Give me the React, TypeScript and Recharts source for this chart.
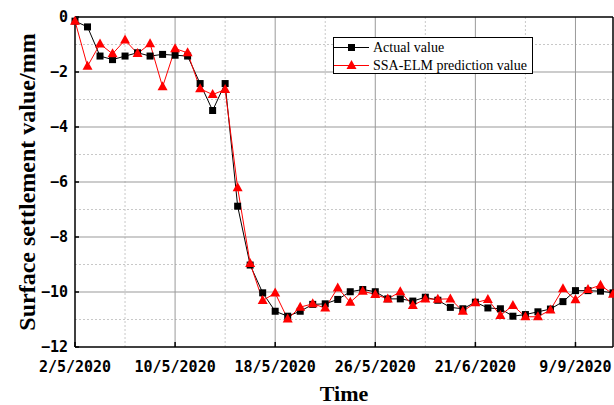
import { LineChart, Line, XAxis, YAxis, ReferenceLine, Legend, Label } from 'recharts';

const actual = [
  -0.15, -0.36, -1.42, -1.55, -1.42, -1.3, -1.42, -1.36, -1.39, -1.42,
  -2.42, -3.4, -2.42, -6.88, -9.02, -10.03, -10.7, -10.88, -10.7, -10.45,
  -10.43, -10.27, -9.99, -9.91, -9.99, -10.25, -10.25, -10.33, -10.19, -10.3,
  -10.56, -10.61, -10.37, -10.58, -10.61, -10.88, -10.82, -10.72, -10.62, -10.35,
  -9.95, -9.95, -9.97, -10.03,
];

const predicted = [
  -0.15, -1.79, -0.98, -1.34, -0.84, -1.33, -0.97, -2.54, -1.15, -1.3,
  -2.61, -2.82, -2.64, -6.21, -8.96, -10.31, -10.04, -10.98, -10.55, -10.43,
  -10.58, -9.85, -10.37, -9.97, -10.09, -10.25, -9.99, -10.49, -10.25, -10.26,
  -10.25, -10.7, -10.39, -10.27, -10.85, -10.49, -10.9, -10.9, -10.65, -9.88,
  -10.28, -9.91, -9.75, -10.08,
];

const dateTicks = [0, 8, 16, 24, 32, 40];
const dateLabels = ['2/5/2020', '10/5/2020', '18/5/2020', '26/5/2020', '21/6/2020', '9/9/2020'];
const minorX = [4, 12, 20, 28, 36];
const yTicks = [-12, -10, -8, -6, -4, -2, 0];
const majorY = [-10, -8, -6, -4, -2];
const minorY = [-11, -9, -7, -5, -3, -1];

const data = actual.map((a, i) => ({ idx: i, actual: a, predicted: predicted[i] }));

const tickFont = { fontFamily: '"DejaVu Sans Mono", monospace', fontWeight: 'bold', fontSize: 15, fill: '#000' };
const titleFont = { fontFamily: '"Liberation Serif", serif', fontWeight: 'bold', fontSize: 22, fill: '#000' };

const Square = (props: any) => {
  const { cx, cy, index } = props;
  return <rect key={`s${index}`} x={cx - 3.5} y={cy - 3.5} width={7} height={7} fill="#000" />;
};

const Triangle = (props: any) => {
  const { cx, cy, index } = props;
  return (
    <polygon key={`t${index}`} points={`${cx},${cy - 5.5} ${cx - 5},${cy + 3.5} ${cx + 5},${cy + 3.5}`} fill="#ff0000" />
  );
};

const LegendBox = () => (
  <svg width={200} height={37} style={{ display: 'block' }}>
    <rect x={0.5} y={0.5} width={199} height={36} fill="#fff" stroke="#000" />
    <line x1={1} x2={36} y1={10.5} y2={10.5} stroke="#000" />
    <rect x={15} y={7} width={7} height={7} fill="#000" />
    <text x={40} y={15} fontFamily='"Liberation Serif", serif' fontSize={14}>Actual value</text>
    <line x1={1} x2={36} y1={28.5} y2={28.5} stroke="#ff0000" />
    <polygon points="18.5,23 13.5,32 23.5,32" fill="#ff0000" />
    <text x={40} y={33} fontFamily='"Liberation Serif", serif' fontSize={14}>SSA-ELM prediction value</text>
  </svg>
);

export default function App() {
  return (
    <div style={{ position: 'absolute', left: 0, top: 0 }}>
      <LineChart width={614} height={405} data={data} margin={{ top: 17, right: 1, left: 0, bottom: 0 }}>
        {minorX.map((x) => (
          <ReferenceLine key={`mx${x}`} x={x} stroke="#c8c8c8" strokeDasharray="2 2" />
        ))}
        {minorY.map((y) => (
          <ReferenceLine key={`my${y}`} y={y} stroke="#c8c8c8" strokeDasharray="2 2" />
        ))}
        {dateTicks.slice(1).map((x) => (
          <ReferenceLine key={`Mx${x}`} x={x} stroke="#999" />
        ))}
        {majorY.map((y) => (
          <ReferenceLine key={`My${y}`} y={y} stroke="#999" />
        ))}
        <ReferenceLine y={0} stroke="#000" strokeWidth={1.5} />
        <ReferenceLine x={43} stroke="#000" strokeWidth={1.5} />
        <XAxis
          dataKey="idx"
          type="number"
          domain={[0, 43]}
          ticks={dateTicks}
          interval={0}
          height={58}
          tickSize={-5}
          tickMargin={19}
          axisLine={{ stroke: '#000', strokeWidth: 1.5 }}
          tickLine={{ stroke: '#000', strokeWidth: 1.5 }}
          tick={tickFont}
          tickFormatter={(v: number) => dateLabels[dateTicks.indexOf(v)]}
        >
          <Label value="Time" position="insideBottom" offset={4} style={titleFont} />
        </XAxis>
        <YAxis
          type="number"
          domain={[-12, 0]}
          ticks={yTicks}
          interval={0}
          width={75}
          tickSize={-4}
          tickMargin={11}
          axisLine={{ stroke: '#000', strokeWidth: 1.5 }}
          tickLine={{ stroke: '#000', strokeWidth: 1.5 }}
          tick={tickFont}
          tickFormatter={(v: number) => String(v).replace('-', '\u2212')}
        >
          <Label
            value="Surface settlement value/mm"
            position="insideLeft"
            angle={-90}
            offset={26}
            style={{ ...titleFont, fontSize: 24, textAnchor: 'middle' }}
          />
        </YAxis>
        <Legend
          layout="vertical"
          align="center"
          verticalAlign="middle"
          wrapperStyle={{ position: 'absolute', left: 333, top: 37, width: 200, height: 37 }}
          content={() => <LegendBox />}
        />
        <Line
          dataKey="actual"
          name="Actual value"
          stroke="#000"
          strokeWidth={1}
          dot={Square}
          activeDot={false}
          isAnimationActive={false}
        />
        <Line
          dataKey="predicted"
          name="SSA-ELM prediction value"
          stroke="#ff0000"
          strokeWidth={1}
          dot={Triangle}
          activeDot={false}
          isAnimationActive={false}
        />
      </LineChart>
    </div>
  );
}
